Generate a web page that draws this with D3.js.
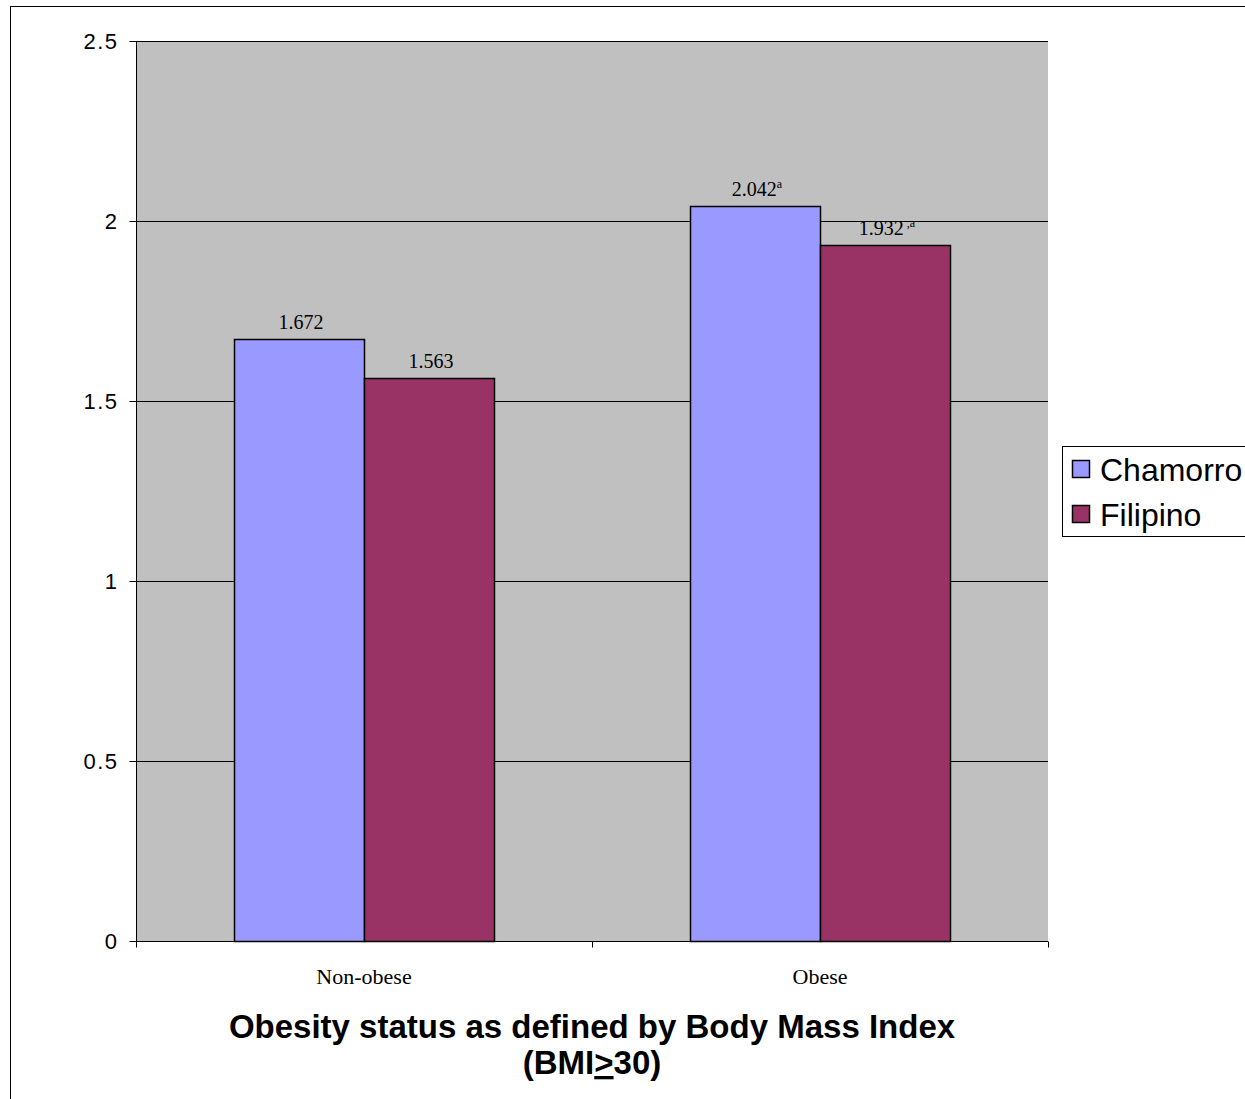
<!DOCTYPE html>
<html>
<head>
<meta charset="utf-8">
<script src="https://cdn.jsdelivr.net/npm/d3@7"></script>
<style>
  html, body { margin: 0; padding: 0; background: #fff; }
  svg { display: block; }
</style>
</head>
<body>
<svg id="chart" width="1245" height="1099"></svg>
<script>
// Mean scores by obesity status and ethnic group
const categories = ["Non-obese", "Obese"];
const seriesNames = ["Chamorro", "Filipino"];
const chamorroValues = [1.672, 2.042];
const filipinoValues = [1.563, 1.932];
const labelNotes = [["", "a"], ["", " ,a"]]; // superscript notes per series, per category
const yTicks = [0, 0.5, 1, 1.5, 2, 2.5];
const colors = ["#9999FF", "#993366"];

const series = [chamorroValues, filipinoValues];

const svg = d3.select("#chart");
const plot = { left: 136, top: 41, right: 1048, bottom: 941 };

// outer chart border (extends past the right/bottom edges)
svg.append("rect")
  .attr("x", 10.5).attr("y", 6.5)
  .attr("width", 1260).attr("height", 1120)
  .attr("fill", "#fff").attr("stroke", "#000").attr("stroke-width", 1);

const y = d3.scaleLinear().domain([0, 2.5]).range([plot.bottom, plot.top]);
const x0 = d3.scaleBand().domain(categories).range([plot.left, plot.right]).paddingInner(0).paddingOuter(0);
const groupWidth = 260;
const x1 = d3.scaleBand().domain(seriesNames).range([0, groupWidth]);

// plot background
svg.append("rect")
  .attr("x", plot.left).attr("y", plot.top)
  .attr("width", plot.right - plot.left).attr("height", plot.bottom - plot.top)
  .attr("fill", "#C0C0C0");

// horizontal gridlines
svg.append("g").selectAll("line")
  .data(yTicks.filter(d => d > 0))
  .join("line")
  .attr("x1", plot.left).attr("x2", plot.right)
  .attr("y1", d => Math.round(y(d)) + 0.5).attr("y2", d => Math.round(y(d)) + 0.5)
  .attr("stroke", "#000").attr("stroke-width", 1);

// bars
const groups = svg.append("g").selectAll("g")
  .data(categories)
  .join("g")
  .attr("transform", c => `translate(${x0(c) + (x0.bandwidth() - groupWidth) / 2},0)`);

groups.selectAll("rect")
  .data((c, i) => seriesNames.map((s, j) => ({ s, j, v: series[j][i], i })))
  .join("rect")
  .attr("x", d => x1(d.s) + 0.5)
  .attr("y", d => Math.round(y(d.v)) + 0.5)
  .attr("width", x1.bandwidth())
  .attr("height", d => plot.bottom - Math.round(y(d.v)))
  .attr("fill", d => colors[d.j])
  .attr("stroke", "#000").attr("stroke-width", 1.5);

// value labels
const vl = groups.selectAll("text")
  .data((c, i) => seriesNames.map((s, j) => ({ s, j, v: series[j][i], i })))
  .join("text")
  .attr("x", d => x1(d.s) + x1.bandwidth() / 2 + 2)
  .attr("y", d => y(d.v) - 10)
  .attr("text-anchor", "middle")
  .attr("font-family", "Liberation Serif, Times New Roman, serif")
  .attr("font-size", 20)
  .attr("fill", "#000");
vl.append("tspan").text(d => d3.format(".3f")(d.v));
vl.append("tspan")
  .attr("font-size", 12)
  .attr("dy", -8)
  .text(d => labelNotes[d.j][d.i]);

// y axis
const yAxis = d3.axisLeft(y).tickValues(yTicks).tickSize(7).tickPadding(11)
  .tickFormat(d => String(d));
const gy = svg.append("g").attr("transform", `translate(${plot.left + 0.5},0)`).call(yAxis);
gy.select(".domain").attr("stroke", "#000").attr("d", `M0,${plot.top}V${plot.bottom}`);
gy.selectAll(".tick line").attr("stroke", "#000");
gy.selectAll(".tick text")
  .attr("font-family", "Liberation Sans, Arial, sans-serif")
  .attr("font-size", 22).attr("letter-spacing", 1.5).attr("fill", "#000");

// x axis
const gx = svg.append("g").attr("transform", `translate(0,${plot.bottom + 0.5})`);
gx.append("line").attr("x1", plot.left).attr("x2", plot.right).attr("stroke", "#000");
gx.selectAll("line.tk")
  .data([plot.left, ...categories.map(c => x0(c) + x0.bandwidth())])
  .join("line").attr("class", "tk")
  .attr("x1", d => Math.round(d) + 0.5).attr("x2", d => Math.round(d) + 0.5)
  .attr("y1", 0).attr("y2", 6).attr("stroke", "#000");
gx.selectAll("text")
  .data(categories)
  .join("text")
  .attr("x", c => x0(c) + x0.bandwidth() / 2)
  .attr("y", 42)
  .attr("text-anchor", "middle")
  .attr("font-family", "Liberation Serif, Times New Roman, serif")
  .attr("font-size", 22)
  .text(c => c);

// axis title
const title = svg.append("g")
  .attr("font-family", "Liberation Sans, Arial, sans-serif")
  .attr("font-weight", "bold").attr("font-size", 33)
  .attr("text-anchor", "middle");
title.append("text").attr("x", 592).attr("y", 1038)
  .text("Obesity status as defined by Body Mass Index");
const t2 = title.append("text").attr("x", 592).attr("y", 1074);
t2.append("tspan").text("(BMI");
t2.append("tspan").attr("text-decoration", "underline").text(">");
t2.append("tspan").text("30)");

// legend
const legend = svg.append("g");
legend.append("rect")
  .attr("x", 1062.5).attr("y", 446.5).attr("width", 200).attr("height", 90)
  .attr("fill", "#fff").attr("stroke", "#000").attr("stroke-width", 1);
const li = legend.selectAll("g.item").data(seriesNames).join("g").attr("class", "item")
  .attr("transform", (d, i) => `translate(0,${i * 45})`);
li.append("rect")
  .attr("x", 1072.5).attr("y", 460.5).attr("width", 17).attr("height", 17)
  .attr("fill", (d, i) => colors[i]).attr("stroke", "#000").attr("stroke-width", 1.5);
li.append("text")
  .attr("x", 1100).attr("y", 481)
  .attr("font-family", "Liberation Sans, Arial, sans-serif")
  .attr("font-size", 32)
  .text(d => d);
</script>
</body>
</html>
